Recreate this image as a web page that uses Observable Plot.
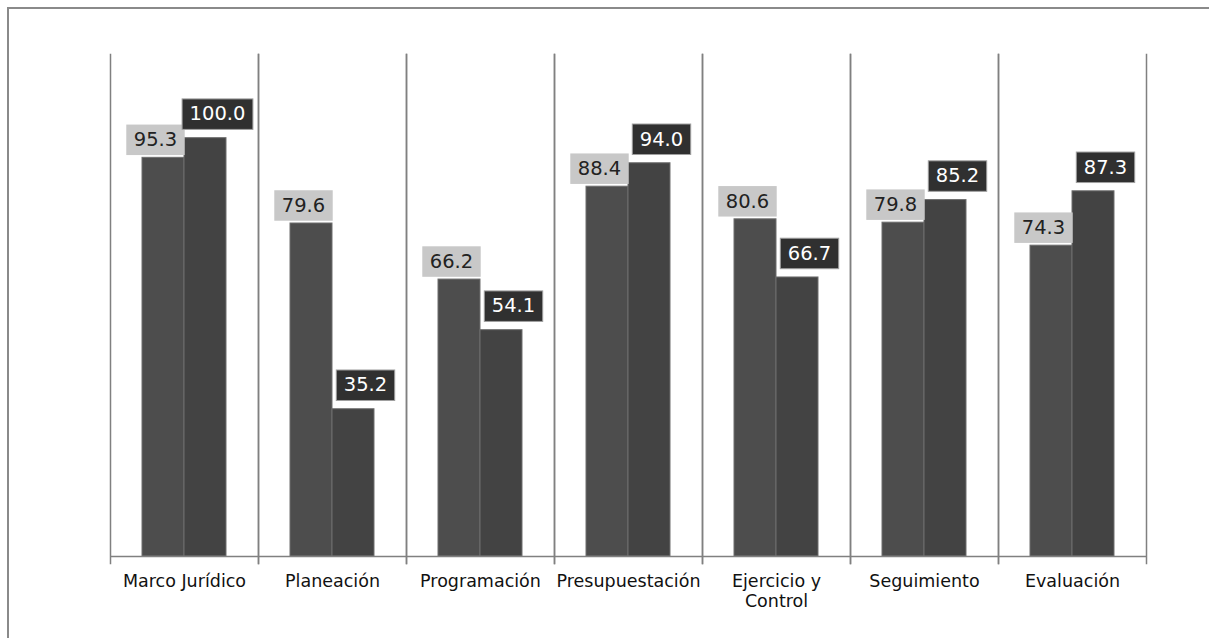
<!DOCTYPE html>
<html><head><meta charset="utf-8">
<script src="https://cdn.jsdelivr.net/npm/d3@7"></script>
<script src="https://cdn.jsdelivr.net/npm/@observablehq/plot@0.6"></script>
<style>
html,body{margin:0;padding:0;background:#fff;overflow:hidden;width:1209px;height:638px;}
#chart{position:absolute;left:0;top:0;}
#frame{position:absolute;left:7px;top:7px;width:1400px;height:800px;border:2px solid #8a8a8a;pointer-events:none;}
</style></head><body>
<div id="chart"></div><div id="frame"></div>
<script>
const categories = ["Marco Jurídico","Planeación","Programación","Presupuestación","Ejercicio y Control","Seguimiento","Evaluación"];
const tickLabels = ["Marco Jurídico","Planeación","Programación","Presupuestación","Ejercicio y\nControl","Seguimiento","Evaluación"];
const seriesNames = ["Serie 1","Serie 2"];
const serie1 = [95.3,79.6,66.2,88.4,80.6,79.8,74.3];
const serie2 = [100.0,35.2,54.1,94.0,66.7,85.2,87.3];

const rows = categories.flatMap((c,i) => [
  {category:c, series:seriesNames[0], value:serie1[i]},
  {category:c, series:seriesNames[1], value:serie2[i]}
]);
const grid = {stroke:"#808080", strokeWidth:1.5};

const svg = Plot.plot({
  width:1209, height:638,
  marginTop:54, marginBottom:82, marginLeft:107, marginRight:61,
  style:{fontFamily:"DejaVu Sans", background:"transparent", color:"#111"},
  fx:{domain:categories, padding:0, label:null},
  x:{domain:seriesNames, paddingInner:0, paddingOuter:0.75, axis:null},
  y:{domain:[0,120], axis:null},
  color:{domain:seriesNames, range:["#4d4d4d","#434343"]},
  marks:[
    Plot.barY(rows, {fx:"category", x:"series", y:"value", fill:"series", stroke:"#6e6e6e", strokeWidth:1}),
    Plot.ruleY([0], grid),
    Plot.frame({anchor:"left", insetBottom:-7, ...grid}),
    Plot.frame({anchor:"right", insetBottom:-7, ...grid}),
    Plot.text(rows, {filter:d=>d.series===seriesNames[0], fx:"category", x:"series", y:"value",
      text:d=>d.value.toFixed(1), dy:-18, dx:-8, fill:"#222", fontSize:19.5, ariaDescription:"label-s1"}),
    Plot.text(rows, {filter:d=>d.series===seriesNames[1], fx:"category", x:"series", y:"value",
      text:d=>d.value.toFixed(1), dy:-24, dx:12, fill:"#fff", fontSize:19.5, ariaDescription:"label-s2"}),
    Plot.axisFx({anchor:"bottom", tickSize:0, tickPadding:16, fontSize:17.5, lineHeight:1.15, label:null,
      tickFormat:d=>tickLabels[categories.indexOf(d)]})
  ]
});
document.getElementById("chart").append(svg);

function boxes(desc, fill, stroke) {
  svg.querySelectorAll(`g[aria-description="${desc}"] text`).forEach(t => {
    const b = t.getBBox();
    const r = document.createElementNS("http://www.w3.org/2000/svg","rect");
    r.setAttribute("x", b.x - 7.5);
    r.setAttribute("y", b.y - 3.5);
    r.setAttribute("width", b.width + 15);
    r.setAttribute("height", b.height + 7.5);
    const tr = t.getAttribute("transform");
    if (tr) r.setAttribute("transform", tr);
    r.setAttribute("fill", fill);
    r.setAttribute("stroke", stroke);
    r.setAttribute("stroke-width", stroke === "none" ? 0 : 1);
    t.parentNode.insertBefore(r, t);
  });
}
boxes("label-s1", "#c8c8c8", "none");
boxes("label-s2", "#303030", "#a0a0a0");
</script>
</body></html>
